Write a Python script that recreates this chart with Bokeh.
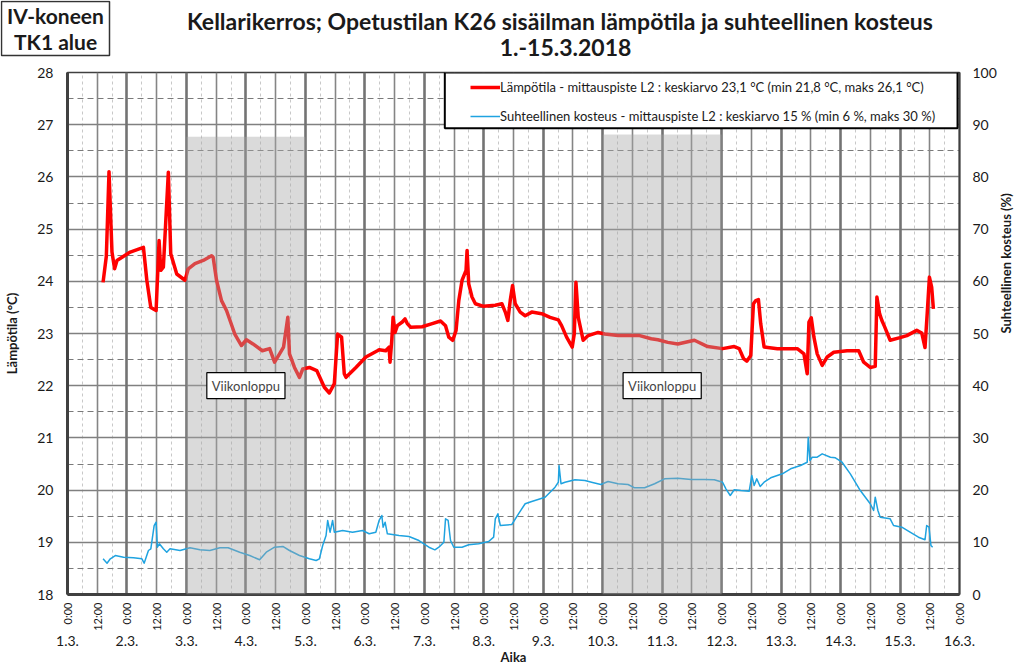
import math
from bokeh.plotting import figure
from bokeh.layouts import column
from bokeh.models import (Range1d, LinearAxis, FixedTicker, BoxAnnotation, Label,
                          Legend, LegendItem, Grid)
from bokeh.embed import file_html
from bokeh.resources import INLINE

FONT = "Lato"

# ---------------- data (x in days since 1.3.2018 0:00) ----------------
temp_day = [
    0.598, 0.653, 0.698, 0.748, 0.792, 0.832, 1.055, 1.277, 1.334, 1.401,
    1.490, 1.540, 1.569, 1.612, 1.696, 1.736, 1.837, 1.976, 2.031, 2.143,
    2.282, 2.423, 2.449, 2.506, 2.590, 2.674, 2.813, 2.925, 3.009, 3.119,
    3.276, 3.399, 3.482, 3.566, 3.633, 3.705, 3.733, 3.817, 3.901, 3.956,
    4.068, 4.191, 4.319, 4.403, 4.487, 4.542, 4.609, 4.654, 4.683, 4.850,
    5.018, 5.212,
    5.240, 5.352, 5.408, 5.424, 5.453, 5.475, 5.508, 5.547, 5.630, 5.676,
    5.714, 5.771, 5.965, 6.133, 6.273, 6.357, 6.412, 6.479, 6.534, 6.580,
    6.635, 6.702, 6.719, 6.747, 6.802, 6.859, 6.998, 7.194, 7.305, 7.362,
    7.405, 7.445, 7.484, 7.529, 7.613, 7.696, 7.807, 7.974, 8.115, 8.254,
    8.309, 8.393, 8.488, 8.522, 8.550, 8.589, 8.672, 8.756, 8.923, 9.036,
    9.258, 9.481, 9.622, 9.816, 9.928, 10.095, 10.263, 10.542, 10.765, 11.016,
    11.212, 11.296, 11.368, 11.423, 11.490, 11.535, 11.574, 11.619, 11.657, 11.714,
    11.937, 12.272, 12.384, 12.439, 12.468, 12.507, 12.552, 12.607, 12.691, 12.775,
    12.886, 13.109, 13.305, 13.389, 13.499, 13.583, 13.611, 13.656, 13.695, 13.733,
    13.834, 14.001, 14.114, 14.281, 14.365, 14.420, 14.460, 14.494, 14.532, 14.561,
]
temp_val = [
    23.98, 24.48, 26.10, 24.56, 24.24, 24.40, 24.56, 24.65, 24.02, 23.50,
    23.44, 24.78, 24.21, 24.27, 26.09, 24.53, 24.14, 24.02, 24.24, 24.34,
    24.40, 24.49, 24.46, 24.02, 23.63, 23.44, 22.99, 22.77, 22.88, 22.80,
    22.67, 22.71, 22.45, 22.61, 22.74, 23.31, 22.61, 22.35, 22.16, 22.32,
    22.35, 22.29, 21.97, 21.86, 22.04, 22.99, 22.93, 22.23, 22.16, 22.35,
    22.55, 22.67,
    22.69, 22.67, 22.74, 22.45, 22.87, 23.31, 23.02, 23.15, 23.22, 23.28,
    23.19, 23.12, 23.13, 23.19, 23.24, 23.15, 22.93, 22.87, 23.06, 23.63,
    24.02, 24.21, 24.59, 23.95, 23.70, 23.57, 23.52, 23.54, 23.57, 23.41,
    23.25, 23.63, 23.92, 23.57, 23.41, 23.34, 23.41, 23.38, 23.31, 23.26,
    23.15, 22.93, 22.74, 22.99, 23.98, 23.31, 22.87, 22.96, 23.02, 22.99,
    22.96, 22.96, 22.96, 22.90, 22.88, 22.83, 22.80, 22.87, 22.75, 22.71,
    22.75, 22.71, 22.52, 22.47, 22.58, 23.57, 23.63, 23.65, 23.19, 22.74,
    22.71, 22.71, 22.61, 22.23, 23.22, 23.30, 22.93, 22.61, 22.39, 22.55,
    22.64, 22.67, 22.67, 22.45, 22.35, 22.37, 23.70, 23.38, 23.25, 23.15,
    22.87, 22.92, 22.96, 23.06, 23.01, 22.73, 23.44, 24.08, 23.89, 23.47,
]

rh_day = [
    0.598, 0.665, 0.720, 0.804, 0.943, 1.110, 1.251, 1.289, 1.361, 1.401,
    1.457, 1.490, 1.512, 1.545, 1.612, 1.669, 1.724, 1.892, 2.059, 2.227,
    2.394, 2.562, 2.701, 2.896, 3.064, 3.231, 3.343, 3.482, 3.621, 3.733,
    3.901, 4.068, 4.181, 4.236, 4.291, 4.348, 4.375, 4.415, 4.458, 4.487,
    4.626, 4.793, 4.961, 5.073, 5.185, 5.240, 5.286, 5.307, 5.341, 5.379,
    5.575, 5.743, 5.910, 6.077, 6.178, 6.245, 6.329, 6.357, 6.401, 6.441,
    6.496, 6.635, 6.747, 6.915, 7.082, 7.166, 7.194, 7.238, 7.278, 7.472,
    7.584, 7.696, 7.807, 8.031, 8.199, 8.254, 8.266, 8.299, 8.366, 8.533,
    8.701, 8.812, 8.969, 9.090, 9.258, 9.426, 9.538, 9.705, 9.873, 10.040,
    10.263, 10.486, 10.710, 10.877, 11.016, 11.072, 11.145, 11.212, 11.323, 11.464,
    11.507, 11.547, 11.591, 11.648, 11.714, 11.825, 12.021, 12.160, 12.327, 12.439,
    12.456, 12.485, 12.523, 12.607, 12.691, 12.830, 12.913, 13.025, 13.164, 13.332,
    13.499, 13.556, 13.583, 13.628, 13.667, 13.834, 13.891, 14.030, 14.169, 14.310,
    14.420, 14.448, 14.487, 14.520, 14.548,
]
rh_val = [
    6.84, 6.00, 6.84, 7.47, 7.15, 7.03, 6.84, 6.00, 8.43, 8.75,
    13.20, 13.85, 9.06, 9.71, 8.75, 8.10, 8.75, 8.43, 8.95, 8.56,
    8.43, 8.95, 8.95, 8.10, 7.47, 6.65, 8.10, 9.06, 9.20, 8.43,
    7.47, 6.84, 6.51, 6.84, 9.39, 11.30, 14.18, 11.93, 14.18, 11.93,
    12.26, 11.93, 12.26, 11.63, 11.93, 14.18, 15.13, 12.89, 13.85, 11.63,
    11.30, 11.11, 10.34, 9.06, 8.56, 9.06, 10.02, 14.50, 14.18, 10.34,
    9.06, 9.06, 9.52, 9.71, 10.15, 10.98, 14.50, 15.46, 13.22, 13.41,
    15.46, 17.38, 17.82, 18.64, 20.56, 21.51, 24.71, 21.21, 21.51, 21.97,
    21.84, 21.51, 21.07, 21.65, 21.21, 21.07, 20.44, 20.44, 21.21, 22.16,
    22.28, 22.03, 22.03, 21.97, 21.51, 20.25, 18.97, 20.06, 19.92, 19.79,
    22.80, 20.88, 22.16, 20.69, 21.51, 22.36, 23.12, 24.08, 24.71, 25.34,
    30.13, 25.67, 26.30, 26.30, 26.95, 26.30, 26.19, 25.34, 23.12, 19.92,
    17.38, 16.09, 18.64, 16.09, 14.81, 14.50, 13.22, 12.89, 11.93, 10.98,
    10.48, 13.22, 12.89, 9.39, 9.06,
]

day_labels = ["1.3.", "2.3.", "3.3.", "4.3.", "5.3.", "6.3.", "7.3.", "8.3.",
              "9.3.", "10.3.", "11.3.", "12.3.", "13.3.", "14.3.", "15.3.", "16.3."]
time_labels = ["0:00", "12:00"]
temp_ticks = list(range(18, 29))
rh_ticks = list(range(0, 101, 10))
weekends = [(2, 4), (9, 11)]
weekend_tops = [26.77, 26.81]
weekend_text = "Viikonloppu"

title_line1 = "Kellarikerros;   Opetustilan K26 sisäilman lämpötila ja suhteellinen kosteus"
title_line2 = "1.-15.3.2018"
corner_lines = ["IV-koneen", "TK1 alue"]
legend_temp = "Lämpötila - mittauspiste L2 : keskiarvo 23,1 °C (min 21,8 °C, maks 26,1 °C)"
legend_rh = "Suhteellinen kosteus - mittauspiste L2 : keskiarvo 15 % (min 6 %, maks 30 %)"

W = 1024
H = 669
HEAD_H = 60

# ---------------- header (titles) ----------------
head = figure(width=W, height=HEAD_H, x_range=Range1d(0, W), y_range=Range1d(0, HEAD_H),
              x_axis_type=None, y_axis_type=None, title=None,
              output_backend="svg", toolbar_location=None,
              min_border=0, outline_line_color=None,
              background_fill_color="white", border_fill_color="white")
head.add_layout(Label(x=565, y=HEAD_H - 20, text=title_line1, text_font=FONT,
                      text_font_size="23px", text_font_style="bold", text_align="center",
                      text_baseline="middle", text_color="#1a1a1a"))
head.add_layout(Label(x=565, y=HEAD_H - 47, text=title_line2, text_font=FONT,
                      text_font_size="23px", text_font_style="bold", text_align="center",
                      text_baseline="middle", text_color="#1a1a1a"))
head.add_layout(BoxAnnotation(left=1, right=109, top=HEAD_H - 1, bottom=HEAD_H - 55,
                              fill_color="white", fill_alpha=1.0,
                              line_color="#333333", line_alpha=1.0, line_width=1.5))
for txt, yy in zip(corner_lines, [15, 41]):
    head.add_layout(Label(x=55, y=HEAD_H - yy, text=txt, text_font=FONT,
                          text_font_size="21px", text_font_style="bold", text_align="center",
                          text_baseline="middle", text_color="#1a1a1a"))

# ---------------- main chart ----------------
n_days = len(day_labels) - 1
t_lo, t_hi = temp_ticks[0], temp_ticks[-1]

p = figure(width=W, height=H - HEAD_H,
           x_range=Range1d(0, n_days), y_range=Range1d(t_lo, t_hi),
           x_axis_type=None, y_axis_type=None, title=None,
           output_backend="svg", toolbar_location=None,
           min_border_left=67, min_border_right=61,
           min_border_top=12, min_border_bottom=75,
           background_fill_color="white", border_fill_color="white",
           outline_line_color="#404040", outline_line_width=1.5)
p.extra_y_ranges = {"rh": Range1d(rh_ticks[0], rh_ticks[-1])}

# keep the header's frame independent of the chart's frame
for fig in (head, p):
    if "frame_align" in fig.properties():
        fig.frame_align = False

# grids
half = [i / 2 for i in range(2 * n_days + 1)]
quarter = [0.25 + i / 2 for i in range(2 * n_days)]
p.add_layout(Grid(dimension=0, ticker=FixedTicker(ticks=quarter),
                  grid_line_color="#c8c8c8", grid_line_width=1, grid_line_dash="3 3"))
p.add_layout(Grid(dimension=1, ticker=FixedTicker(ticks=[t + 0.5 for t in temp_ticks[:-1]]),
                  grid_line_color="#7a7a7a", grid_line_width=1.2, grid_line_dash="6 4"))
p.add_layout(Grid(dimension=1, ticker=FixedTicker(ticks=temp_ticks[1:-1]),
                  grid_line_color="#808080", grid_line_width=1.5))
p.add_layout(Grid(dimension=0, ticker=FixedTicker(ticks=[h for h in half if h % 1 == 0.5]),
                  grid_line_color="#858585", grid_line_width=1.6))
p.add_layout(Grid(dimension=0, ticker=FixedTicker(ticks=list(range(1, n_days))),
                  grid_line_color="#737373", grid_line_width=2.6))


def style_axis(ax):
    ax.major_tick_line_color = None
    ax.minor_tick_line_color = None
    ax.major_tick_out = 0
    ax.major_tick_in = 0
    ax.minor_tick_out = 0
    ax.minor_tick_in = 0
    ax.major_label_text_font = FONT
    ax.major_label_text_color = "#1a1a1a"
    ax.axis_label_text_font = FONT
    ax.axis_label_text_font_style = "bold"
    ax.axis_label_text_color = "#1a1a1a"
    ax.axis_label_text_font_size = "13px"


def key(t):
    return int(t) if float(t).is_integer() else t


ax_time = LinearAxis(ticker=FixedTicker(ticks=half),
                     major_label_overrides={key(t): time_labels[0] if float(t).is_integer() else time_labels[1]
                                            for t in half})
style_axis(ax_time)
ax_time.major_label_orientation = math.pi / 2
ax_time.major_label_text_font_size = "11px"
ax_time.major_label_standoff = 8
ax_time.axis_line_color = "#404040"
ax_time.axis_line_width = 3
p.add_layout(ax_time, "below")

ax_date = LinearAxis(ticker=FixedTicker(ticks=list(range(n_days + 1))),
                     major_label_overrides={i: day_labels[i] for i in range(n_days + 1)},
                     axis_label="Aika")
style_axis(ax_date)
ax_date.axis_line_color = None
ax_date.major_label_text_font_size = "14px"
ax_date.major_label_standoff = 2
ax_date.axis_label_standoff = 0
p.add_layout(ax_date, "below")

ax_left = LinearAxis(ticker=FixedTicker(ticks=temp_ticks), axis_label="Lämpötila (°C)")
style_axis(ax_left)
ax_left.major_label_text_font_size = "14px"
ax_left.major_label_standoff = 14
ax_left.axis_label_standoff = 14
ax_left.axis_line_color = "#404040"
ax_left.axis_line_width = 3
p.add_layout(ax_left, "left")

ax_right = LinearAxis(y_range_name="rh", ticker=FixedTicker(ticks=rh_ticks),
                      axis_label="Suhteellinen kosteus (%)")
style_axis(ax_right)
ax_right.axis_label_orientation = math.pi / 2
ax_right.major_label_text_font_size = "14px"
ax_right.major_label_standoff = 13
ax_right.axis_label_standoff = 6
ax_right.axis_line_color = "#404040"
ax_right.axis_line_width = 2
p.add_layout(ax_right, "right")

# data lines
r_t = p.line(temp_day, temp_val, line_color="#ff0000", line_width=3.5, line_join="round")
r_h = p.line(rh_day, rh_val, y_range_name="rh", line_color="#1fa3e0", line_width=1.5,
             line_join="round")

# weekend shading (drawn over the lines, translucent)
for (a, b), top in zip(weekends, weekend_tops):
    p.add_layout(BoxAnnotation(left=a, right=b, top=top, bottom=t_lo,
                               fill_color="#a6a6a6", fill_alpha=0.42, line_color=None))
    p.add_layout(Label(x=(a + b) / 2, y=22.0, text=weekend_text, text_font=FONT,
                       text_font_size="13px", text_align="center", text_baseline="middle",
                       background_fill_color="white", border_line_color="black",
                       border_line_width=1.2, padding=5))

# legend box + legend
p.add_layout(BoxAnnotation(left=6.345, right=14.967, top=t_hi, bottom=26.93,
                           fill_color="white", fill_alpha=1.0,
                           line_color="black", line_alpha=1.0, line_width=2))
legend = Legend(items=[LegendItem(label=legend_temp, renderers=[r_t]),
                       LegendItem(label=legend_rh, renderers=[r_h])],
                location=(403, 469), padding=0, spacing=11, label_height=18,
                glyph_width=30, glyph_height=18, label_standoff=0, margin=0,
                border_line_color=None, background_fill_alpha=0,
                label_text_font=FONT, label_text_font_size="13px",
                label_text_color="#1a1a1a")
p.add_layout(legend, "center")

open("out.html", "w").write(file_html(column(head, p, spacing=0), INLINE))
